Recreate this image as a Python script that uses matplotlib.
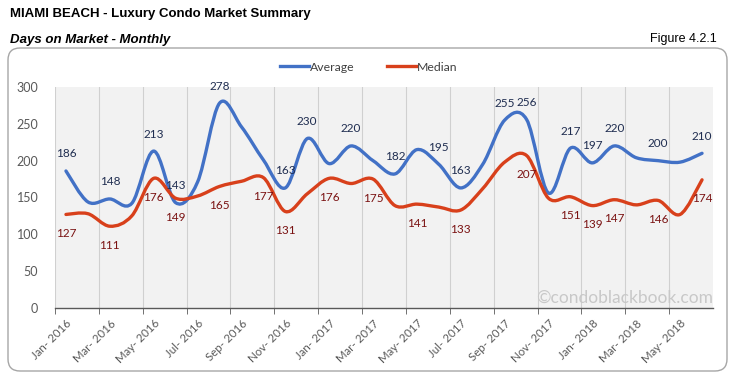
import matplotlib.pyplot as plt
from matplotlib.path import Path
from matplotlib.patches import PathPatch, FancyBboxPatch
from matplotlib.lines import Line2D

months = ["Jan", "Feb", "Mar", "Apr", "May", "Jun", "Jul", "Aug", "Sep", "Oct", "Nov", "Dec"]
categories = [f"{months[i % 12]}- {2016 + i // 12}" for i in range(30)]

average = [186, 144, 148, 142, 213, 143, 171, 278, 246, 201, 163, 230, 196, 220, 200,
           182, 215, 195, 163, 195, 255, 256, 156, 217, 197, 220, 204, 200, 198, 210]
median = [127, 128, 111, 125, 176, 149, 152, 165, 172, 177, 131, 155, 176, 169, 175,
          139, 141, 137, 133, 162, 198, 207, 149, 151, 139, 147, 140, 146, 127, 174]

# which points carry a data label
avg_labeled = [0, 2, 4, 5, 7, 10, 11, 13, 15, 17, 18, 20, 21, 23, 24, 25, 27, 29]
med_labeled = [0, 2, 4, 5, 7, 9, 10, 12, 14, 16, 18, 21, 23, 24, 25, 27, 29]

BLUE = "#4271C6"
RED = "#D8401B"
FONT = "Lato"


def smooth_path(xs, ys):
    # Excel-style smoothed line: Catmull-Rom as cubic Bezier segments
    pts = list(zip(xs, ys))
    n = len(pts)
    verts = [pts[0]]
    codes = [Path.MOVETO]
    for i in range(n - 1):
        p0 = pts[i - 1] if i > 0 else pts[i]
        p1 = pts[i]
        p2 = pts[i + 1]
        p3 = pts[i + 2] if i + 2 < n else pts[i + 1]
        c1 = (p1[0] + (p2[0] - p0[0]) / 6, p1[1] + (p2[1] - p0[1]) / 6)
        c2 = (p2[0] - (p3[0] - p1[0]) / 6, p2[1] - (p3[1] - p1[1]) / 6)
        verts += [c1, c2, p2]
        codes += [Path.CURVE4] * 3
    return Path(verts, codes)


fig = plt.figure(figsize=(7.33, 3.83), dpi=100)
fig.patch.set_facecolor("white")

# rounded chart frame (pixel coords)
frame = FancyBboxPatch((8, 12), 719, 323, boxstyle="round,pad=0,rounding_size=12",
                       transform=None, facecolor="none", edgecolor="#A6A6A6", lw=1.0,
                       zorder=-1)
fig.patches.append(frame)

fig.text(10 / 733, 1 - 14 / 383, "MIAMI BEACH - Luxury Condo Market Summary",
         fontsize=9.5, fontweight="bold", family="Liberation Sans", va="center")
fig.text(10 / 733, 1 - 40 / 383, "Days on Market - Monthly",
         fontsize=9.5, fontweight="bold", style="italic", family="Liberation Sans", va="center")
fig.text(717 / 733, 1 - 39 / 383, "Figure 4.2.1",
         fontsize=9, family="Liberation Sans", va="center", ha="right")

ax = fig.add_axes([55 / 733, 1 - 308 / 383, 658 / 733, 221 / 383])
ax.set_facecolor("#F2F2F2")
x = list(range(len(categories)))

ax.add_patch(PathPatch(smooth_path(x, average), facecolor="none", edgecolor=BLUE,
                       lw=2.4, capstyle="round", joinstyle="round", zorder=3))
ax.add_patch(PathPatch(smooth_path(x, median), facecolor="none", edgecolor=RED,
                       lw=2.4, capstyle="round", joinstyle="round", zorder=3))

for i in avg_labeled:
    ax.annotate(str(average[i]), (x[i], average[i]), xytext=(0, 17), textcoords="offset pixels",
                ha="center", va="center", fontsize=8.5, color="#1F2D50", family=FONT, zorder=4)
for i in med_labeled:
    ax.annotate(str(median[i]), (x[i], median[i]), xytext=(0, -19), textcoords="offset pixels",
                ha="center", va="center", fontsize=8.5, color="#7A1212", family=FONT, zorder=4)

ax.set_xlim(-0.5, len(categories) - 0.5)
ax.set_ylim(0, 300)
ax.set_yticks(range(0, 301, 50))
ax.tick_params(axis="y", length=0, labelsize=9, labelcolor="#595959", pad=12)
for t in ax.get_yticklabels():
    t.set_family(FONT)

ax.set_xticks(x[::2])
ax.set_xticklabels(categories[::2], rotation=45, ha="right", rotation_mode="anchor",
                   fontsize=8.3, color="#595959", family=FONT)
ax.set_xticks([i - 0.5 for i in x[::2]], minor=True)
ax.tick_params(axis="x", which="major", length=0, pad=7)
ax.tick_params(axis="x", which="minor", length=4, color="#595959", direction="out")
ax.grid(axis="x", which="minor", color="#D0D0D0", lw=0.8)
ax.set_axisbelow(True)

for side in ["top", "right", "left"]:
    ax.spines[side].set_visible(False)
ax.spines["bottom"].set_color("#595959")
ax.spines["bottom"].set_linewidth(1.0)

ax.text(1.0, 0.01, "\u00a9condoblackbook.com", transform=ax.transAxes, ha="right", va="bottom",
        fontsize=12.5, color="#C8C8C8", family=FONT, zorder=2)

handles = [Line2D([], [], color=BLUE, lw=2.4), Line2D([], [], color=RED, lw=2.4)]
ax.legend(handles, ["Average", "Median"], loc="center", bbox_to_anchor=(0.477, 1.09),
          ncol=2, frameon=False, prop={"family": FONT, "size": 8.8}, handlelength=2.4,
          handletextpad=0.1, columnspacing=2.6, labelcolor="#404040")

fig.savefig("out.png", dpi=100)
